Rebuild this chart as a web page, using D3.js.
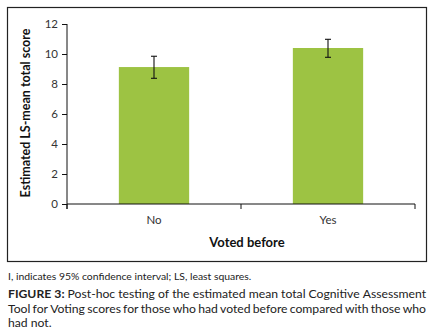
<!DOCTYPE html>
<html>
<head>
<meta charset="utf-8">
<script src="https://cdn.jsdelivr.net/npm/d3@7"></script>
<style>
  body { margin: 0; background: #fff; }
  svg { display: block; font-family: Lato, "Open Sans", sans-serif; }
</style>
</head>
<body>
<div id="chart"></div>
<script>
const categories = ["No", "Yes"];
const means = [9.13, 10.4];
const ciLow = [8.38, 9.78];
const ciHigh = [9.85, 10.98];
const yTicks = [0, 2, 4, 6, 8, 10, 12];

const footnote = "I, indicates 95% confidence interval; LS, least squares.";
const captionLines = [
	["FIGURE 3:", "Post-hoc testing of the estimated mean total Cognitive Assessment"],
	["", "Tool for Voting scores for those who had voted before compared with those who"],
	["", "had not."]
];

var W = 432, H = 333;
var margin = {top: 24, left: 67, right: 17, bottom: 129};
var width = W - margin.left - margin.right,
    height = H - margin.top - margin.bottom;

var svg = d3.select("#chart").append("svg")
	.attr("width", W)
	.attr("height", H);

// frame round the chart
svg.append("rect")
	.attr("x", 7.5).attr("y", 7.5)
	.attr("width", 419).attr("height", 254)
	.attr("fill", "none")
	.attr("stroke", "#222")
	.attr("stroke-width", 1.2);

var g = svg.append("g")
	.attr("transform", "translate(" + margin.left + "," + margin.top + ")");

var x = d3.scaleBand().domain(categories).range([0, width]).padding(0);
var y = d3.scaleLinear().domain([0, 12]).range([height, 0]);

var barW = x.bandwidth() * 0.404;

g.selectAll(".bar")
	.data(categories)
	.enter().append("rect")
	.attr("class", "bar")
	.attr("x", function(d){ return x(d) + x.bandwidth()/2 - barW/2 })
	.attr("y", function(d, i){ return y(means[i]) })
	.attr("width", barW)
	.attr("height", function(d, i){ return height - y(means[i]) })
	.attr("fill", "#9dc343");

// error bars
var err = g.selectAll(".err")
	.data(categories)
	.enter().append("g")
	.attr("class", "err")
	.attr("stroke", "#111")
	.attr("stroke-width", 1.1);
err.append("line")
	.attr("x1", function(d){ return x(d) + x.bandwidth()/2 })
	.attr("x2", function(d){ return x(d) + x.bandwidth()/2 })
	.attr("y1", function(d, i){ return y(ciLow[i]) })
	.attr("y2", function(d, i){ return y(ciHigh[i]) });
err.append("line")
	.attr("x1", function(d){ return x(d) + x.bandwidth()/2 - 3 })
	.attr("x2", function(d){ return x(d) + x.bandwidth()/2 + 3 })
	.attr("y1", function(d, i){ return y(ciHigh[i]) })
	.attr("y2", function(d, i){ return y(ciHigh[i]) });
err.append("line")
	.attr("x1", function(d){ return x(d) + x.bandwidth()/2 - 3 })
	.attr("x2", function(d){ return x(d) + x.bandwidth()/2 + 3 })
	.attr("y1", function(d, i){ return y(ciLow[i]) })
	.attr("y2", function(d, i){ return y(ciLow[i]) });

// y axis
var yAxis = g.append("g")
	.call(d3.axisLeft(y).tickValues(yTicks).tickSize(5).tickPadding(4));
yAxis.select(".domain").attr("d", "M0," + (height + 5) + "V0").attr("stroke", "#111");
yAxis.selectAll(".tick line").attr("stroke", "#111");
yAxis.selectAll("text").attr("font-size", 11.5).attr("fill", "#333")
	.attr("font-family", "Lato, sans-serif");

// x axis, ticks at band edges
var xAxis = g.append("g")
	.attr("transform", "translate(0," + height + ")");
xAxis.append("line")
	.attr("x1", 0).attr("x2", width)
	.attr("stroke", "#111");
xAxis.selectAll(".edge")
	.data(categories.concat([null]))
	.enter().append("line")
	.attr("x1", function(d){ return d === null ? width : x(d) })
	.attr("x2", function(d){ return d === null ? width : x(d) })
	.attr("y1", 0).attr("y2", 5)
	.attr("stroke", "#111");
xAxis.selectAll(".lab")
	.data(categories)
	.enter().append("text")
	.attr("x", function(d){ return x(d) + x.bandwidth()/2 })
	.attr("y", 20)
	.attr("text-anchor", "middle")
	.attr("font-size", 11.5)
	.attr("fill", "#333")
	.text(function(d){ return d });

// axis titles
svg.append("text")
	.attr("transform", "translate(30," + (margin.top + height/2 - 1) + ") rotate(-90)")
	.attr("text-anchor", "middle")
	.attr("font-size", 12.5)
	.attr("font-weight", "bold")
	.attr("fill", "#111")
	.text("Estimated LS-mean total score");

svg.append("text")
	.attr("x", 247)
	.attr("y", 247)
	.attr("text-anchor", "middle")
	.attr("font-size", 13)
	.attr("font-weight", "bold")
	.attr("fill", "#111")
	.text("Voted before");

// notes under the frame
svg.append("text")
	.attr("x", 8)
	.attr("y", 280)
	.attr("font-size", 10.4)
	.attr("fill", "#222")
	.text(footnote);

// caption, justified line by line
var capLeft = 8, capRight = 426, capSize = 12.2;
captionLines.forEach(function(line, li){
	var yy = 298 + li * 14.5;
	var words = [];
	line[0].split(" ").filter(Boolean).forEach(function(w){ words.push({t: w, b: true}) });
	line[1].split(" ").filter(Boolean).forEach(function(w){ words.push({t: w, b: false}) });
	var nodes = words.map(function(w){
		return svg.append("text")
			.attr("y", yy)
			.attr("font-size", capSize)
			.attr("font-weight", w.b ? "bold" : "normal")
			.attr("fill", "#222")
			.text(w.t);
	});
	var widths = nodes.map(function(n){ return n.node().getComputedTextLength() });
	var total = d3.sum(widths);
	var justify = li < captionLines.length - 1;
	var gap = justify ? (capRight - capLeft - total) / (words.length - 1) : capSize * 0.25;
	var cx = capLeft;
	nodes.forEach(function(n, i){
		n.attr("x", cx);
		cx += widths[i] + gap;
	});
});
</script>
</body>
</html>
